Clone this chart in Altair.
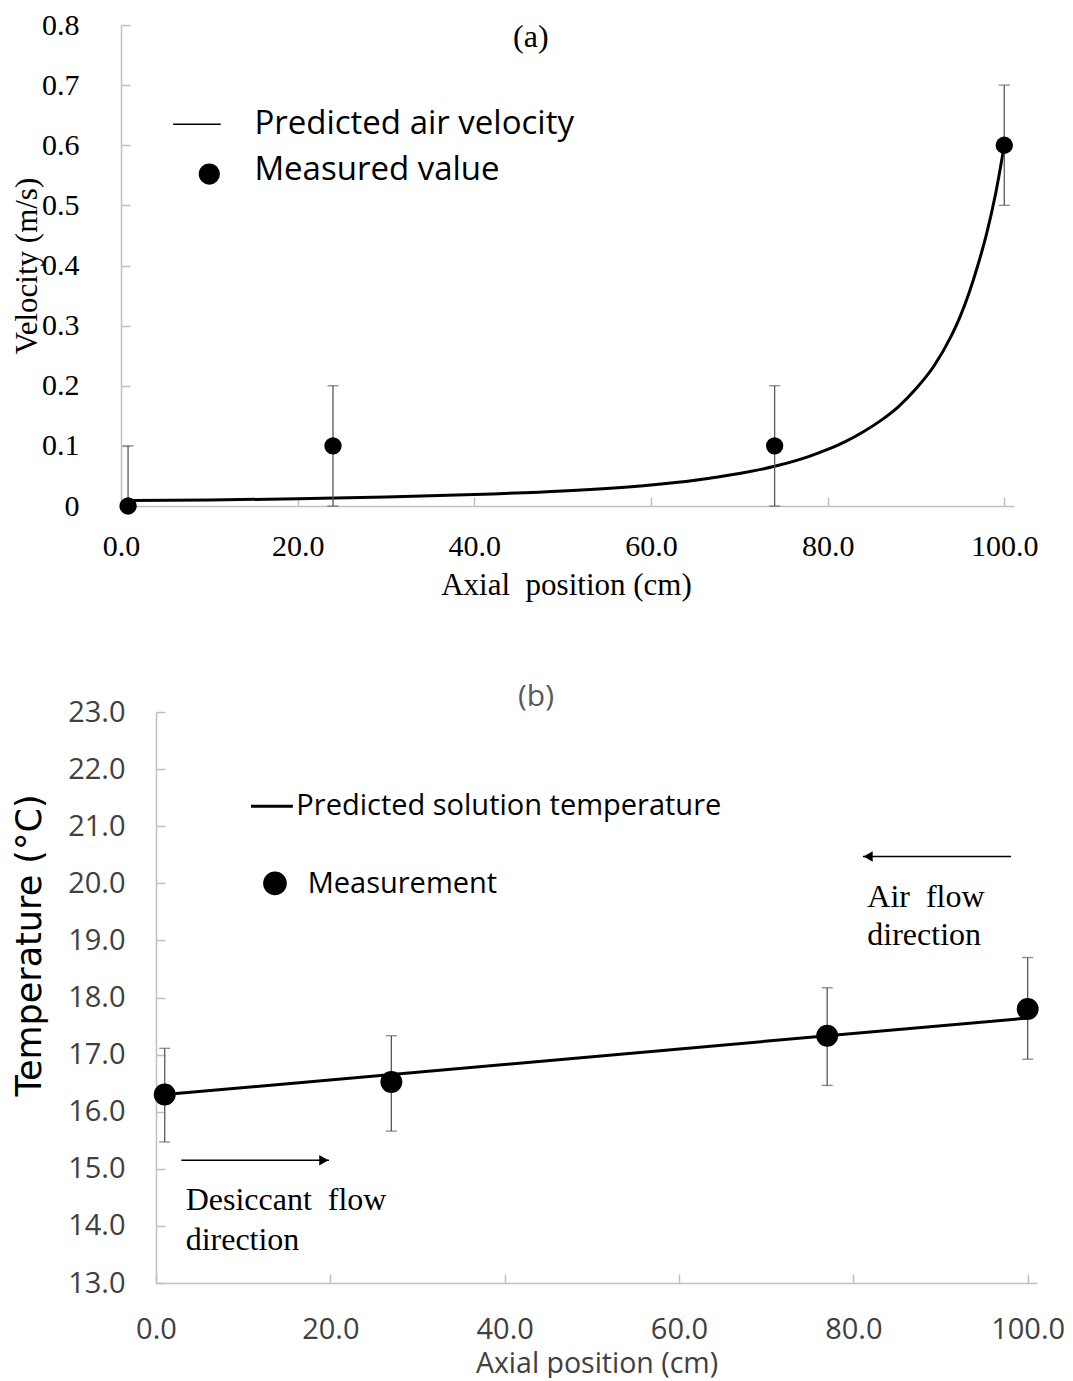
import altair as alt
import pandas as pd

# ---------------- Panel (a): air velocity ----------------
curve_x = [1, 10, 20, 30, 40, 50, 60, 65, 70, 74, 78, 80, 82, 84, 86, 88, 90, 92, 94, 95, 96, 97, 98, 99, 100]
curve_y = [0.009, 0.010, 0.012, 0.015, 0.019, 0.025, 0.035, 0.043, 0.054, 0.066, 0.083, 0.094,
           0.107, 0.123, 0.142, 0.165, 0.195, 0.232, 0.283, 0.315, 0.354, 0.400, 0.453, 0.518, 0.600]
vel_x = [0.8, 24.0, 74.0, 100.0]
vel_y = [0.0, 0.1, 0.1, 0.6]
vel_lo = [-0.1, 0.0, 0.0, 0.5]
vel_hi = [0.1, 0.2, 0.2, 0.7]
a_xticks = [0, 20, 40, 60, 80, 100]
a_yticks = [0, 0.1, 0.2, 0.3, 0.4, 0.5, 0.6, 0.7, 0.8]
a_tag = ["(a)"]
a_tag_x = [46.4]
a_tag_y = [0.78]
a_leg_labels = ["Predicted air velocity", "Measured value"]
a_leg_text_x = [15.1, 15.1]
a_leg_text_y = [0.635, 0.559]
a_leg_line_x = [5.9]
a_leg_line_x2 = [11.3]
a_leg_line_y = [0.635]
a_leg_dot_x = [10.0]
a_leg_dot_y = [0.552]

# ---------------- Panel (b): solution temperature ----------------
pred_x = [1, 100]
pred_y = [16.30, 17.64]
temp_x = [1.0, 27.0, 77.0, 100.0]
temp_y = [16.30, 16.52, 17.33, 17.80]
temp_lo = [15.47, 15.66, 16.46, 16.92]
temp_hi = [17.11, 17.33, 18.17, 18.70]
b_xticks = [0, 20, 40, 60, 80, 100]
b_yticks = [13, 14, 15, 16, 17, 18, 19, 20, 21, 22, 23]
b_tag = ["(b)"]
b_tag_x = [43.6]
b_tag_y = [23.26]
b_leg_labels = ["Predicted solution temperature", "Measurement"]
b_leg_text_x = [16.1, 17.4]
b_leg_text_y = [21.35, 19.98]
b_leg_line_x = [10.9]
b_leg_line_x2 = [15.7]
b_leg_line_y = [21.35]
b_leg_dot_x = [13.65]
b_leg_dot_y = [20.0]
arrow_x = [98.1, 2.9]
arrow_x2 = [81.1, 19.85]
arrow_y = [20.47, 15.15]
head_x = [81.7, 19.25]
head_shape = ["triangle-left", "triangle-right"]
ann_text = ["Air\u00a0 flow", "direction", "Desiccant\u00a0 flow", "direction"]
ann_x = [81.6, 81.6, 3.4, 3.4]
ann_y = [19.76, 19.09, 14.45, 13.76]

SERIF = "Liberation Serif, Times New Roman, serif"
SANS = "Open Sans, Noto Sans, sans-serif"
WIDE = "DejaVu Sans, Verdana, sans-serif"
AX = "#bfbfbf"
ERR = "#595959"

A_W, A_H = 858, 481
B_W, B_H = 881, 571

# ---------- scales & axes ----------
# panel (a): its y axis sits 35 px left of the shared plot origin
sx_a = alt.Scale(domain=[0, 101.1], range=[-35, 858], nice=False, zero=False)
sy_a = alt.Scale(domain=[0, 0.8], nice=False, zero=False, clamp=True)
sx_b = alt.Scale(domain=[0, 101.07], nice=False, zero=False)
sy_b = alt.Scale(domain=[13, 23], nice=False, zero=False)

ax_x_a = alt.Axis(values=a_xticks, format=".1f", title="Axial\u00a0 position (cm)",
                  labelFont=SERIF, labelFontSize=30, labelColor="black", labelPadding=25,
                  labelFlush=False, labelOverlap=False, ticks=False, tickSize=0,
                  domainColor=AX, domainWidth=1.5, grid=True, gridColor=AX, gridWidth=1.5,
                  gridDash=[0, A_H - 9, 9, 10000],
                  titleFont=SERIF, titleFontSize=31, titleFontWeight="normal", titleColor="black",
                  titleBaseline="alphabetic", titleY=88, titleX=410)
ax_y_a = alt.Axis(values=a_yticks, format=".1~f", title="Velocity (m/s)", offset=35,
                  labelFont=SERIF, labelFontSize=30, labelColor="black", labelPadding=42,
                  labelFlush=False, labelOverlap=False, ticks=False, tickSize=0,
                  domainColor=AX, domainWidth=1.5, grid=True, gridColor=AX, gridWidth=1.5,
                  gridDash=[9, 10000],
                  titleFont=SERIF, titleFontSize=31, titleFontWeight="normal", titleColor="black",
                  titleAngle=270, titleAlign="center", titleBaseline="middle",
                  titleX=-93.5, titleY=A_H / 2)
ax_x_b = alt.Axis(values=b_xticks, format=".1f", title="Axial position (cm)",
                  labelFont=SANS, labelFontSize=29, labelColor="#404040", labelPadding=32,
                  labelFlush=False, labelOverlap=False, ticks=False, tickSize=0,
                  domainColor=AX, domainWidth=1.5, grid=True, gridColor=AX, gridWidth=1.5,
                  gridDash=[0, B_H - 9, 9, 10000],
                  titleFont=SANS, titleFontSize=28.5, titleFontWeight="normal", titleColor="#404040",
                  titleBaseline="alphabetic", titleY=89)
ax_y_b = alt.Axis(values=b_yticks, format=".1f", title="Temperature (°C)",
                  labelFont=SANS, labelFontSize=29, labelColor="#404040", labelPadding=31,
                  labelFlush=False, labelOverlap=False, ticks=False, tickSize=0,
                  domainColor=AX, domainWidth=1.5, grid=True, gridColor=AX, gridWidth=1.5,
                  gridDash=[9, 10000],
                  titleFont=WIDE, titleFontSize=35, titleFontWeight="normal", titleColor="black",
                  titleAngle=270, titleAlign="center", titleBaseline="middle",
                  titleX=-126.5, titleY=233)


def XA(f):
    return alt.X(f, type="quantitative", scale=sx_a, axis=ax_x_a)


def YA(f):
    return alt.Y(f, type="quantitative", scale=sy_a, axis=ax_y_a)


def XB(f):
    return alt.X(f, type="quantitative", scale=sx_b, axis=ax_x_b)


def YB(f):
    return alt.Y(f, type="quantitative", scale=sy_b, axis=ax_y_b)


NOVIEW = alt.ViewBackground(stroke="transparent", strokeWidth=0)

# ---------- panel (a) ----------
df_curve = pd.DataFrame({"x": curve_x, "y": curve_y})
df_vel = pd.DataFrame({"x": vel_x, "y": vel_y, "lo": vel_lo, "hi": vel_hi})
df_atag = pd.DataFrame({"x": a_tag_x, "y": a_tag_y, "label": a_tag})
df_aleg_t = pd.DataFrame({"x": a_leg_text_x, "y": a_leg_text_y, "label": a_leg_labels})
df_aleg_l = pd.DataFrame({"x": a_leg_line_x, "x2": a_leg_line_x2, "y": a_leg_line_y})
df_aleg_d = pd.DataFrame({"x": a_leg_dot_x, "y": a_leg_dot_y})

a_curve = alt.Chart(df_curve).mark_line(color="black", strokeWidth=3, interpolate="monotone").encode(
    x=XA("x"), y=YA("y"))
a_bar = alt.Chart(df_vel).mark_rule(color=ERR, strokeWidth=1.3).encode(
    x=XA("x"), y=YA("lo"), y2="hi")
a_cap_lo = alt.Chart(df_vel).transform_filter("datum.lo >= 0").mark_tick(
    color=ERR, orient="horizontal", size=11, thickness=1.3).encode(x=XA("x"), y=YA("lo"))
a_cap_hi = alt.Chart(df_vel).mark_tick(color=ERR, orient="horizontal", size=11,
                                       thickness=1.3).encode(x=XA("x"), y=YA("hi"))
a_pts = alt.Chart(df_vel).mark_circle(color="black", size=300, opacity=1).encode(x=XA("x"), y=YA("y"))
a_leg_line = alt.Chart(df_aleg_l).mark_rule(color="black", strokeWidth=1.5).encode(
    x=XA("x"), x2="x2", y=YA("y"))
a_leg_dot = alt.Chart(df_aleg_d).mark_circle(color="black", size=450, opacity=1).encode(
    x=XA("x"), y=YA("y"))
a_leg_text = alt.Chart(df_aleg_t).mark_text(align="left", baseline="middle", font=SANS,
                                            fontSize=33, color="black").encode(
    x=XA("x"), y=YA("y"), text="label:N")
a_tag_text = alt.Chart(df_atag).mark_text(align="center", baseline="middle", font=SERIF,
                                          fontSize=32, color="black").encode(
    x=XA("x"), y=YA("y"), text="label:N")

panel_a = alt.layer(a_curve, a_bar, a_cap_lo, a_cap_hi, a_pts, a_leg_line, a_leg_dot, a_leg_text,
                    a_tag_text).properties(width=A_W, height=A_H, view=NOVIEW)

# ---------- panel (b) ----------
df_pred = pd.DataFrame({"x": pred_x, "y": pred_y})
df_temp = pd.DataFrame({"x": temp_x, "y": temp_y, "lo": temp_lo, "hi": temp_hi})
df_btag = pd.DataFrame({"x": b_tag_x, "y": b_tag_y, "label": b_tag})
df_bleg_t = pd.DataFrame({"x": b_leg_text_x, "y": b_leg_text_y, "label": b_leg_labels})
df_bleg_l = pd.DataFrame({"x": b_leg_line_x, "x2": b_leg_line_x2, "y": b_leg_line_y})
df_bleg_d = pd.DataFrame({"x": b_leg_dot_x, "y": b_leg_dot_y})
df_arrow = pd.DataFrame({"x": arrow_x, "x2": arrow_x2, "y": arrow_y, "hx": head_x, "shape": head_shape})
df_ann = pd.DataFrame({"x": ann_x, "y": ann_y, "label": ann_text})

b_line = alt.Chart(df_pred).mark_line(color="black", strokeWidth=3).encode(x=XB("x"), y=YB("y"))
b_bar = alt.Chart(df_temp).mark_rule(color=ERR, strokeWidth=1.3).encode(x=XB("x"), y=YB("lo"), y2="hi")
b_cap_lo = alt.Chart(df_temp).mark_tick(color=ERR, orient="horizontal", size=11, thickness=1.3).encode(
    x=XB("x"), y=YB("lo"))
b_cap_hi = alt.Chart(df_temp).mark_tick(color=ERR, orient="horizontal", size=11, thickness=1.3).encode(
    x=XB("x"), y=YB("hi"))
b_pts = alt.Chart(df_temp).mark_circle(color="black", size=480, opacity=1).encode(x=XB("x"), y=YB("y"))
b_leg_line = alt.Chart(df_bleg_l).mark_rule(color="black", strokeWidth=3).encode(
    x=XB("x"), x2="x2", y=YB("y"))
b_leg_dot = alt.Chart(df_bleg_d).mark_circle(color="black", size=560, opacity=1).encode(
    x=XB("x"), y=YB("y"))
b_leg_text = alt.Chart(df_bleg_t).mark_text(align="left", baseline="middle", font=SANS,
                                            fontSize=29, color="black").encode(
    x=XB("x"), y=YB("y"), text="label:N")
b_arrow = alt.Chart(df_arrow).mark_rule(color="black", strokeWidth=1.6).encode(
    x=XB("x"), x2="x2", y=YB("y"))
b_head = alt.Chart(df_arrow).mark_point(filled=True, color="black", size=110, opacity=1).encode(
    x=XB("hx"), y=YB("y"), shape=alt.Shape("shape:N", scale=None))
b_ann = alt.Chart(df_ann).mark_text(align="left", baseline="middle", font=SERIF, fontSize=32,
                                    color="black").encode(x=XB("x"), y=YB("y"), text="label:N")
b_tag_text = alt.Chart(df_btag).mark_text(align="center", baseline="middle", font=SANS,
                                          fontSize=30, color="#595959").encode(
    x=XB("x"), y=YB("y"), text="label:N")

panel_b = alt.layer(b_line, b_bar, b_cap_lo, b_cap_hi, b_pts, b_leg_line, b_leg_dot, b_leg_text,
                    b_arrow, b_head, b_ann, b_tag_text).properties(width=B_W, height=B_H, view=NOVIEW)

chart = alt.concat(panel_a, panel_b, columns=1, spacing=82, align="none", bounds="full").properties(
    padding={"left": 3, "top": 2, "right": 0, "bottom": 0}, background="white"
).configure_view(stroke="transparent", strokeWidth=0)

chart.save("out.html", embed_options={"renderer": "svg", "actions": False})
